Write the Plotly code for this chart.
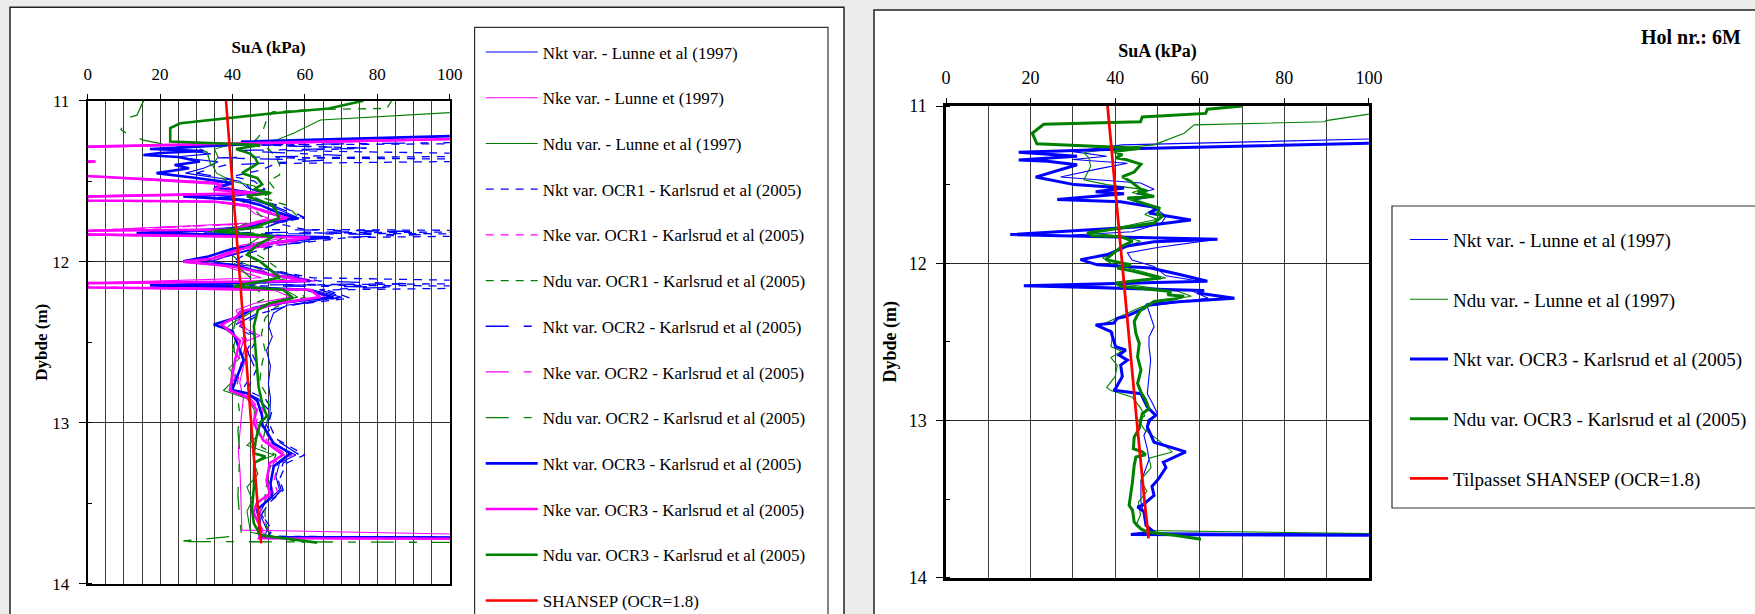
import plotly.graph_objects as go

W, H = 1755, 614
FONT = "Liberation Serif"

# ---------------------------------------------------------------------------
# Borehole 6M - undrained shear strength SuA (kPa) against depth (m)
# each series: list of (depth, su) pairs
# ---------------------------------------------------------------------------

# left panel, Lunne et al (1997)
L_NKT_LUNNE = [(11.00, 160), (11.20, 140), (11.22, 100), (11.26, 45), (11.30, 24), (11.33, 34), (11.35, 24),
               (11.38, 36), (11.42, 32), (11.45, 27), (11.50, 42), (11.54, 44), (11.574, 48), (11.60, 38),
               (11.62, 46), (11.65, 50), (11.73, 58.5), (11.76, 50), (11.80, 44), (11.822, 22), (11.85, 62),
               (11.90, 48), (11.97, 38), (12.00, 34), (12.03, 46), (12.12, 62), (12.147, 25), (12.174, 62),
               (12.22, 70), (12.27, 55), (12.32, 51.3), (12.40, 50), (12.466, 51), (12.55, 49.4), (12.65, 50.5),
               (12.756, 49.9), (12.85, 50.5), (12.97, 50.3), (13.03, 49), (13.128, 51), (13.20, 57.5), (13.25, 53),
               (13.335, 52), (13.418, 53), (13.50, 49), (13.563, 47.5), (13.667, 49.5), (13.705, 49), (13.72, 160)]

L_NKE_LUNNE = [(11.00, 170), (11.20, 150), (11.24, 105), (11.29, 0), (11.33, -30), (11.40, -30), (11.47, 0),
               (11.52, 36), (11.574, 44), (11.59, 0), (11.62, 0), (11.63, 36), (11.66, 44), (11.70, 46),
               (11.73, 50), (11.76, 45), (11.806, 0), (11.835, 0), (11.85, 55), (11.90, 42), (11.95, 40),
               (12.00, 30), (12.03, 38), (12.10, 48), (12.133, 0), (12.16, 0), (12.18, 52), (12.22, 56),
               (12.26, 46), (12.30, 41), (12.36, 42), (12.42, 43.9), (12.46, 47.6), (12.50, 43), (12.56, 44.5),
               (12.65, 43), (12.75, 42), (12.85, 43), (12.95, 42.5), (13.07, 42.1), (13.17, 41.6), (13.31, 42.1),
               (13.45, 42.3), (13.60, 42.4), (13.667, 42.6), (13.72, 170)]

L_NDU_LUNNE = [(11.00, 170), (11.06, 120), (11.074, 100), (11.12, 64.3), (11.20, 57), (11.245, 52), (11.27, 40),
               (11.30, 35), (11.35, 36), (11.40, 34.5), (11.45, 35.6), (11.50, 40), (11.53, 46), (11.57, 48),
               (11.60, 44), (11.65, 52), (11.70, 50), (11.73, 55), (11.78, 45), (11.81, 36), (11.84, 48),
               (11.90, 44), (11.96, 40), (12.00, 42), (12.05, 48), (12.10, 52), (12.15, 42), (12.18, 55),
               (12.22, 58), (12.27, 48), (12.33, 44), (12.38, 40), (12.42, 38), (12.47, 41), (12.55, 40),
               (12.60, 42), (12.66, 39), (12.72, 41), (12.80, 37.5), (12.85, 44), (12.92, 46), (13.00, 46),
               (13.08, 47), (13.14, 44), (13.20, 51.5), (13.25, 46), (13.32, 47), (13.40, 44), (13.48, 45.5),
               (13.55, 44), (13.62, 44.5), (13.68, 45), (13.71, 52), (13.725, 170)]

# left panel, Karlsrud et al (2005), OCR1
L_NKT_OCR1 = [(11.00, 170), (11.26, 150), (11.275, 48), (11.295, 77), (11.31, 55), (11.34, 140), (11.355, 52),
              (11.368, 140), (11.39, 52), (11.43, 48), (11.47, 40), (11.50, 46), (11.55, 49), (11.58, 44),
              (11.62, 48), (11.66, 54), (11.727, 60), (11.76, 52), (11.80, 60), (11.81, 140), (11.822, 58),
              (11.832, 140), (11.85, 72), (11.90, 52), (11.95, 44), (12.00, 40), (12.05, 50), (12.10, 62),
              (12.13, 140), (12.145, 55), (12.155, 140), (12.175, 66), (12.226, 72.5), (12.27, 56), (12.32, 48),
              (12.40, 42), (12.47, 47), (12.55, 45), (12.65, 47), (12.75, 45), (12.80, 44), (12.85, 49),
              (12.92, 51), (13.00, 50), (13.10, 52), (13.20, 60), (13.25, 55), (13.35, 53), (13.42, 54),
              (13.50, 50), (13.57, 48), (13.667, 51), (13.705, 50), (13.722, 170)]

L_NKE_OCR1 = [(11.00, 170), (11.20, 150), (11.235, 108), (11.287, 0), (11.33, -35), (11.42, -35), (11.469, 0),
              (11.51, 37), (11.55, 38), (11.574, 48), (11.592, 0), (11.624, 0), (11.63, 37), (11.67, 47),
              (11.73, 57), (11.76, 50), (11.807, 0), (11.834, 0), (11.85, 64), (11.92, 46), (11.98, 36),
              (12.00, 28), (12.03, 42), (12.12, 63), (12.134, 0), (12.158, 0), (12.174, 63), (12.22, 67),
              (12.26, 54), (12.31, 44), (12.40, 42), (12.49, 44), (12.61, 42.5), (12.80, 41), (12.84, 45.5),
              (12.92, 48.5), (13.00, 47.5), (13.11, 50.5), (13.20, 56.5), (13.25, 52.5), (13.36, 51.5),
              (13.44, 52.5), (13.50, 48.5), (13.56, 47.5), (13.667, 50), (13.718, 49), (13.725, 170)]

L_NDU_OCR1 = [(11.00, 84), (11.017, 83.5), (11.048, 82.6), (11.055, 62), (11.07, 51), (11.12, 49.4),
              (11.18, 48.5), (11.23, 47), (11.27, 45), (11.30, 50), (11.35, 52), (11.40, 53), (11.46, 53),
              (11.50, 50), (11.56, 52), (11.60, 48), (11.65, 55), (11.72, 58), (11.78, 50), (11.81, 40),
              (11.84, 55), (11.90, 50), (11.96, 47), (12.00, 50), (12.10, 56), (12.15, 45), (12.18, 58),
              (12.22, 60), (12.28, 52), (12.35, 49), (12.45, 48), (12.55, 49), (12.65, 48), (12.75, 47.5),
              (12.85, 50), (12.95, 50), (13.05, 49), (13.15, 48), (13.20, 52), (13.30, 50), (13.45, 49),
              (13.60, 49), (13.70, 50), (13.745, 60)]

# left panel, Karlsrud et al (2005), OCR2
L_NKT_OCR2 = [(11.00, 170), (11.25, 140), (11.275, 46), (11.295, 77), (11.31, 40), (11.34, 70), (11.355, 36),
              (11.37, 65), (11.40, 38), (11.45, 30), (11.50, 43), (11.55, 45), (11.574, 50), (11.60, 36),
              (11.62, 47), (11.66, 52), (11.73, 60), (11.76, 52), (11.80, 48), (11.812, 90), (11.822, 30),
              (11.832, 92), (11.85, 68), (11.92, 46), (11.97, 38), (12.00, 32), (12.03, 46), (12.12, 64),
              (12.137, 88), (12.147, 30), (12.157, 85), (12.174, 64), (12.22, 71), (12.27, 56), (12.32, 47),
              (12.40, 40), (12.466, 46), (12.55, 44), (12.65, 46), (12.75, 44), (12.80, 42.5), (12.85, 47),
              (12.92, 50), (13.00, 49), (13.10, 51.5), (13.20, 58.5), (13.25, 54), (13.35, 52.5), (13.42, 53.5),
              (13.50, 50), (13.57, 48), (13.667, 50.5), (13.71, 50), (13.725, 170)]

L_NKE_OCR2 = [(11.00, 170), (11.20, 150), (11.234, 109), (11.286, 0), (11.33, -38), (11.42, -38), (11.468, 0),
              (11.51, 36), (11.55, 36), (11.574, 47.5), (11.592, 0), (11.624, 0), (11.627, 36), (11.66, 46),
              (11.73, 56), (11.76, 49), (11.807, 0), (11.835, 0), (11.85, 62.5), (11.92, 45), (11.98, 35),
              (12.00, 27), (12.03, 41), (12.12, 62), (12.134, 0), (12.158, 0), (12.174, 62), (12.22, 65.5),
              (12.26, 53), (12.31, 43), (12.40, 41), (12.49, 43), (12.61, 41.5), (12.80, 40), (12.84, 44.7),
              (12.92, 47.5), (13.00, 46.5), (13.11, 49.5), (13.20, 55), (13.25, 51.3), (13.36, 50.3),
              (13.44, 51.3), (13.50, 47.5), (13.56, 46.7), (13.667, 49), (13.718, 48.2), (13.725, 170)]

L_NDU_OCR2 = [(11.00, 15.5), (11.02, 15), (11.09, 13.6), (11.11, 10.4), (11.18, 9.2), (11.20, 10.5),
              (11.245, 15.4), (11.27, 21), (11.29, 30), (11.32, 33), (11.40, 34), (11.48, 37), (11.55, 42),
              (11.60, 40), (11.65, 45), (11.72, 48), (11.78, 42), (11.81, 33), (11.84, 44), (11.90, 41),
              (11.96, 38), (12.00, 40), (12.10, 45), (12.15, 38), (12.18, 47), (12.22, 50), (12.28, 44),
              (12.35, 41), (12.45, 40), (12.55, 40.5), (12.65, 40), (12.75, 39.5), (12.85, 41.5), (12.95, 42),
              (13.05, 41.5), (13.18, 42), (13.30, 41.8), (13.45, 41.5), (13.60, 42), (13.70, 42.5),
              (13.738, 25), (13.748, 170)]

# left panel, Karlsrud et al (2005), OCR3
L_NKT_OCR3 = [(11.00, 160), (11.19, 150), (11.214, 110), (11.254, 42.4), (11.27, 44), (11.30, 17.2), (11.312, 32),
              (11.325, 20), (11.337, 15.4), (11.35, 25), (11.378, 31), (11.40, 24), (11.42, 28), (11.45, 19),
              (11.48, 30), (11.512, 40.2), (11.54, 35), (11.574, 45.8), (11.595, 26.4), (11.616, 42.1),
              (11.647, 47.6), (11.69, 52), (11.73, 57.8), (11.75, 49.4), (11.79, 44), (11.822, 13.5),
              (11.835, 40), (11.849, 66.9), (11.87, 55), (11.92, 40), (11.97, 32.9), (11.998, 26.4),
              (12.03, 42.1), (12.08, 50), (12.12, 61.4), (12.147, 17.2), (12.16, 45), (12.174, 60.5),
              (12.221, 67.9), (12.25, 55), (12.287, 45.8), (12.34, 42.1), (12.39, 34.8), (12.43, 40),
              (12.506, 41.3), (12.61, 43.1), (12.70, 41.5), (12.797, 39.9), (12.817, 44), (12.86, 46.8),
              (12.96, 48.2), (13.01, 48.2), (13.128, 51.4), (13.19, 56), (13.27, 51.4), (13.377, 50.5),
              (13.46, 50.9), (13.54, 46.8), (13.60, 47.5), (13.687, 47.2), (13.71, 48), (13.718, 160)]

L_NKE_OCR3 = [(11.00, 170), (11.20, 150), (11.233, 110), (11.285, 0), (11.30, -20), (11.33, -40), (11.37, -8),
              (11.378, 2.2), (11.386, -8), (11.43, -40), (11.468, 0), (11.51, 34.8), (11.53, 37), (11.553, 34.7),
              (11.574, 46.7), (11.592, 0), (11.60, -10), (11.612, -10), (11.62, 0), (11.626, 34.7), (11.65, 44),
              (11.69, 49), (11.73, 55), (11.75, 48), (11.80, 40), (11.808, 0), (11.82, -15), (11.83, 0),
              (11.85, 61.4), (11.90, 46), (11.95, 38), (11.98, 34.7), (12.00, 26.4), (12.03, 40.2), (12.08, 50),
              (12.12, 60.5), (12.133, 0), (12.145, -15), (12.16, 0), (12.174, 61.4), (12.22, 64.2), (12.26, 52),
              (12.31, 42.1), (12.34, 41.2), (12.39, 37), (12.49, 42.1), (12.61, 40.7), (12.80, 39.3),
              (12.84, 43.9), (12.92, 46.7), (13.00, 45.8), (13.11, 48.5), (13.20, 54), (13.25, 50.3),
              (13.36, 49.4), (13.44, 50.3), (13.50, 46.7), (13.56, 45.8), (13.667, 48.2), (13.718, 47.3),
              (13.725, 170)]

L_NDU_OCR3 = [(11.00, 76.2), (11.048, 66.6), (11.08, 50.5), (11.14, 25.6), (11.17, 22.8), (11.254, 22.8),
              (11.275, 47.6), (11.30, 41), (11.33, 45), (11.357, 46.3), (11.39, 47), (11.42, 44.9),
              (11.45, 42.6), (11.48, 46.8), (11.52, 48.2), (11.55, 46), (11.574, 50.5), (11.59, 44),
              (11.61, 46), (11.647, 50.9), (11.68, 52), (11.73, 52.8), (11.79, 45.8), (11.81, 34.8),
              (11.843, 51.4), (11.895, 46.8), (11.957, 44), (12.00, 47.7), (12.06, 51), (12.10, 53.1),
              (12.153, 40.2), (12.174, 54), (12.225, 56.7), (12.26, 50), (12.30, 47), (12.40, 45.9),
              (12.527, 46.3), (12.65, 46.8), (12.776, 47.2), (12.88, 48.2), (12.96, 49.5), (13.00, 47.7),
              (13.10, 46.5), (13.19, 45.9), (13.21, 49.1), (13.25, 46), (13.40, 45.9), (13.54, 45.4),
              (13.625, 45.9), (13.70, 47.7), (13.745, 63.4)]

# fitted SHANSEP profile (OCR = 1.8)
SHANSEP = [(11.00, 38.2), (11.50, 39.9), (12.00, 41.6), (12.50, 43.4), (13.00, 45.1), (13.50, 46.9),
           (13.75, 47.9)]

# right panel
R_NKT_LUNNE = [(11.00, 160), (11.19, 140), (11.21, 100.5), (11.247, 41.7), (11.29, 30), (11.32, 38), (11.34, 30),
               (11.364, 42.9), (11.40, 36), (11.452, 27.1), (11.49, 46), (11.53, 49.2), (11.56, 45),
               (11.575, 49.2), (11.60, 44), (11.66, 50), (11.70, 52), (11.744, 51), (11.80, 44), (11.82, 30),
               (11.85, 63.4), (11.90, 50), (11.934, 42.9), (11.98, 44), (12.02, 49.2), (12.08, 52), (12.115, 60),
               (12.143, 30), (12.173, 58), (12.222, 62), (12.275, 47.6), (12.34, 48.5), (12.403, 49.2),
               (12.47, 48), (12.53, 48), (12.616, 48.4), (12.72, 48), (12.83, 47.6), (12.90, 49), (12.957, 50),
               (13.00, 48.4), (13.095, 46.8), (13.18, 47.6), (13.25, 48), (13.39, 46.1), (13.52, 46.1),
               (13.60, 46.8), (13.69, 47.6), (13.715, 50), (13.73, 160)]

R_NDU_LUNNE = [(11.00, 160), (11.04, 120), (11.05, 100.5), (11.093, 89.9), (11.10, 89.5), (11.12, 58.7),
               (11.173, 56.3), (11.247, 49.2), (11.27, 40), (11.296, 32.6), (11.33, 33.8), (11.385, 34.2),
               (11.427, 33.4), (11.47, 32.6), (11.50, 38), (11.53, 46.5), (11.55, 44), (11.575, 48), (11.60, 44),
               (11.65, 49.5), (11.69, 47), (11.72, 50), (11.76, 43), (11.808, 34), (11.83, 42), (11.86, 46),
               (11.90, 42), (11.966, 37), (12.00, 39), (12.05, 46), (12.094, 52), (12.126, 40.5), (12.18, 55),
               (12.21, 58), (12.243, 50), (12.28, 46), (12.33, 42), (12.38, 38), (12.40, 36), (12.44, 39.5),
               (12.53, 39), (12.56, 41.5), (12.60, 39), (12.65, 40.5), (12.72, 40), (12.79, 38), (12.81, 39),
               (12.85, 44), (12.92, 46), (12.97, 47), (13.00, 45.5), (13.06, 47), (13.12, 50), (13.20, 53.5),
               (13.24, 48), (13.30, 48.5), (13.38, 46), (13.45, 47.5), (13.52, 45.5), (13.60, 46), (13.67, 44.9),
               (13.70, 47), (13.72, 100), (13.73, 160)]

R_NKT_OCR3 = [(11.00, 160), (11.20, 150), (11.23, 110), (11.27, 46), (11.294, 17.2), (11.32, 31), (11.343, 17.2),
              (11.352, 24), (11.374, 31), (11.452, 21.2), (11.50, 30.3), (11.522, 42.1), (11.545, 35.4),
              (11.558, 42.1), (11.594, 26.3), (11.609, 41.3), (11.649, 50.4), (11.68, 48), (11.725, 57.9),
              (11.77, 45), (11.818, 15.2), (11.83, 33), (11.848, 64.2), (11.863, 49.2), (11.89, 42.9),
              (11.945, 38.2), (11.977, 31.8), (12.01, 35.8), (12.03, 48.4), (12.07, 55), (12.115, 61.8),
              (12.143, 18.4), (12.16, 45), (12.173, 61.0), (12.19, 59.5), (12.222, 68.2), (12.245, 55),
              (12.264, 47.6), (12.286, 46.9), (12.339, 42.5), (12.35, 40.5), (12.38, 39.7), (12.392, 35.4),
              (12.435, 39), (12.53, 40.1), (12.552, 42.5), (12.584, 40.9), (12.616, 42.9), (12.648, 41.3),
              (12.72, 41.7), (12.797, 40.1), (12.808, 39.7), (12.83, 46.1), (12.915, 47.6), (12.968, 49.6),
              (13.00, 48), (13.04, 47.6), (13.138, 49.2), (13.20, 56.7), (13.265, 51.4), (13.30, 52),
              (13.37, 50.3), (13.42, 48.7), (13.477, 49.2), (13.54, 46.4), (13.55, 45.3), (13.58, 46.8),
              (13.667, 47.3), (13.71, 49.2), (13.725, 43.7), (13.735, 160)]

R_NDU_OCR3 = [(11.00, 70.1), (11.02, 61.8), (11.047, 61.4), (11.07, 46.4), (11.10, 46.0), (11.116, 23.1),
              (11.173, 20.4), (11.24, 21.5), (11.268, 46), (11.29, 39.7), (11.31, 41.7), (11.33, 40.1),
              (11.34, 42.5), (11.37, 46.1), (11.42, 44.5), (11.45, 41.7), (11.48, 43.7), (11.53, 46.1),
              (11.54, 47.6), (11.55, 45.3), (11.575, 49.2), (11.585, 42.9), (11.607, 45.3), (11.65, 50.4),
              (11.69, 50), (11.70, 51.2), (11.744, 49.2), (11.776, 41.3), (11.808, 33.4), (11.825, 34.6),
              (11.83, 41.3), (11.86, 44.1), (11.89, 41.7), (11.966, 38.2), (11.977, 37.8), (12.01, 43.7),
              (12.03, 40.5), (12.05, 44.1), (12.094, 50.8), (12.126, 40.1), (12.147, 41.3), (12.18, 53.2),
              (12.20, 52.4), (12.21, 56.3), (12.228, 54), (12.243, 49.2), (12.296, 46.1), (12.328, 45.3),
              (12.371, 44.5), (12.446, 44.9), (12.51, 45.7), (12.595, 45.3), (12.68, 46.1), (12.765, 45.3),
              (12.82, 46.1), (12.87, 47.2), (12.925, 48.0), (12.957, 46.4), (13.00, 46.0), (13.05, 45.7),
              (13.106, 44.5), (13.18, 44.3), (13.20, 46.4), (13.218, 47.2), (13.233, 44.9), (13.286, 44.5),
              (13.39, 44.1), (13.54, 43.3), (13.57, 44.1), (13.646, 44.5), (13.69, 46.1), (13.71, 47.6),
              (13.73, 54), (13.756, 60.3)]

BLUE, MAGENTA, GREEN, RED = "#0000ff", "#ff00ff", "#008000", "#ff0000"
OCR1_DASH = "8px,7px"
OCR2_DASH = "23px,15px,8px,15px"

fig = go.Figure()


def add(series, name, color, width, dash, panel, key):
    depth = [p[0] for p in series]
    su = [p[1] for p in series]
    xa, ya, lg = ("x", "y", "legend") if panel == 1 else ("x2", "y2", "legend2")
    fig.add_trace(go.Scatter(
        x=su, y=depth, mode="lines", name=name,
        line=dict(color=color, width=width, dash=dash),
        xaxis=xa, yaxis=ya, legend=lg, legendgroup=key,
        hovertemplate="%{x:.1f} kPa @ %{y:.2f} m<extra>" + name + "</extra>",
    ))


# left panel
add(L_NKT_LUNNE, "Nkt var. - Lunne et al (1997)", BLUE, 1.1, "solid", 1, "a1")
add(L_NKE_LUNNE, "Nke var. - Lunne et (1997)", MAGENTA, 1.1, "solid", 1, "a2")
add(L_NDU_LUNNE, "Ndu var. - Lunne et al (1997)", GREEN, 1.1, "solid", 1, "a3")
add(L_NKT_OCR1, "Nkt var. OCR1 - Karlsrud et al (2005)", BLUE, 1.3, OCR1_DASH, 1, "a4")
add(L_NKE_OCR1, "Nke var. OCR1 - Karlsrud et al (2005)", MAGENTA, 1.3, OCR1_DASH, 1, "a5")
add(L_NDU_OCR1, "Ndu var. OCR1 - Karlsrud et al (2005)", GREEN, 1.3, OCR1_DASH, 1, "a6")
add(L_NKT_OCR2, "Nkt var. OCR2 - Karlsrud et al (2005)", BLUE, 1.3, OCR2_DASH, 1, "a7")
add(L_NKE_OCR2, "Nke var. OCR2 - Karlsrud et al (2005)", MAGENTA, 1.3, OCR2_DASH, 1, "a8")
add(L_NDU_OCR2, "Ndu var. OCR2 - Karlsrud et al (2005)", GREEN, 1.3, OCR2_DASH, 1, "a9")
add(L_NKT_OCR3, "Nkt var. OCR3 - Karlsrud et al (2005)", BLUE, 2.6, "solid", 1, "a10")
add(L_NKE_OCR3, "Nke var. OCR3 - Karlsrud et al (2005)", MAGENTA, 2.6, "solid", 1, "a11")
add(L_NDU_OCR3, "Ndu var. OCR3 - Karlsrud et al (2005)", GREEN, 2.6, "solid", 1, "a12")
add(SHANSEP, "SHANSEP (OCR=1.8)", RED, 2.6, "solid", 1, "a13")

# right panel
add(R_NKT_LUNNE, "Nkt var. - Lunne et al (1997)", BLUE, 1.1, "solid", 2, "b1")
add(R_NDU_LUNNE, "Ndu var. - Lunne et al (1997)", GREEN, 1.1, "solid", 2, "b2")
add(R_NKT_OCR3, "Nkt var. OCR3 - Karlsrud et al (2005)", BLUE, 3, "solid", 2, "b3")
add(R_NDU_OCR3, "Ndu var. OCR3 - Karlsrud et al (2005)", GREEN, 3, "solid", 2, "b4")
add(SHANSEP, "Tilpasset SHANSEP (OCR=1.8)", RED, 2.8, "solid", 2, "b5")


def px(v):
    return v / W


def py(v):
    return 1 - v / H


def xaxis(domain, minor_step, size, line_w, anchor, title_gap):
    return dict(
        domain=domain, anchor=anchor, side="top", range=[0, 100], tick0=0, dtick=20,
        ticks="outside", ticklen=5, tickwidth=1, tickcolor="black",
        showgrid=True, gridcolor="#3c3c3c", gridwidth=1,
        minor=dict(dtick=minor_step, tick0=0, showgrid=True, gridcolor="#3c3c3c", gridwidth=1, ticks=""),
        showline=True, linecolor="black", linewidth=line_w, mirror=True, zeroline=False,
        tickfont=dict(family=FONT, size=size, color="black"), ticklabelstandoff=7,
        title=dict(text="SuA (kPa)", font=dict(family=FONT, size=size, color="black", weight="bold"),
                   standoff=title_gap),
    )


def yaxis(domain, size, line_w, anchor, label_gap, title_gap):
    return dict(
        domain=domain, anchor=anchor, range=[14, 11], tick0=11, dtick=1,
        ticks="outside", ticklen=7, tickwidth=1, tickcolor="black",
        showgrid=True, gridcolor="#2a2a2a", gridwidth=1,
        minor=dict(dtick=0.5, tick0=11, ticks="inside", ticklen=4, tickcolor="black", showgrid=False),
        showline=True, linecolor="black", linewidth=line_w, mirror=True, zeroline=False,
        tickfont=dict(family=FONT, size=size, color="black"), ticklabelstandoff=label_gap,
        title=dict(text="Dybde (m)", font=dict(family=FONT, size=size, color="black", weight="bold"),
                   standoff=title_gap),
    )


shapes = [
    # white sheets behind each panel
    dict(type="rect", xref="paper", yref="paper", x0=px(10), x1=px(844), y0=py(660), y1=py(7.3),
         fillcolor="white", line=dict(color="#222222", width=1.5), layer="below"),
    dict(type="rect", xref="paper", yref="paper", x0=px(874), x1=px(1800), y0=py(660), y1=py(10),
         fillcolor="white", line=dict(color="#222222", width=1.5), layer="below"),
    # legend frames
    dict(type="rect", xref="paper", yref="paper", x0=px(474.6), x1=px(828), y0=py(660), y1=py(27.4),
         fillcolor="rgba(0,0,0,0)", line=dict(color="#333333", width=1.2), layer="above"),
    dict(type="rect", xref="paper", yref="paper", x0=px(1392), x1=px(1800), y0=py(508), y1=py(206),
         fillcolor="rgba(0,0,0,0)", line=dict(color="#333333", width=1.2), layer="above"),
]

fig.update_layout(
    width=W, height=H, margin=dict(l=0, r=0, t=0, b=0, autoexpand=False),
    paper_bgcolor="#ececec", plot_bgcolor="white",
    font=dict(family=FONT, color="black"),
    xaxis=xaxis([px(87.7), px(449.7)], 5, 17, 2, "y", 7),
    yaxis=yaxis([py(583.7), py(100.7)], 17, 2, "x", 6, 0),
    xaxis2=xaxis([px(946), px(1368.9)], 10, 18, 2.5, "y2", 6),
    yaxis2=yaxis([py(577.7), py(106)], 18, 2.5, "x2", 6, 8),
    legend=dict(x=px(480.7), xanchor="left", y=py(34.5), yanchor="top", maxheight=2000, itemwidth=52,
                font=dict(family=FONT, size=17, color="black"), bgcolor="rgba(0,0,0,0)",
                borderwidth=0, tracegroupgap=20.6, itemclick=False, itemdoubleclick=False),
    legend2=dict(x=px(1405), xanchor="left", y=py(220.7), yanchor="top", maxheight=2000, itemwidth=38,
                 font=dict(family=FONT, size=19, color="black"), bgcolor="rgba(0,0,0,0)",
                 borderwidth=0, tracegroupgap=32, itemclick=False, itemdoubleclick=False),
    shapes=shapes,
    annotations=[dict(text="<b>Hol nr.: 6M</b>", xref="paper", yref="paper", x=px(1743), y=py(37),
                      xanchor="right", yanchor="middle", showarrow=False,
                      font=dict(family=FONT, size=20, color="black"))],
)

fig.write_html("out.html")
